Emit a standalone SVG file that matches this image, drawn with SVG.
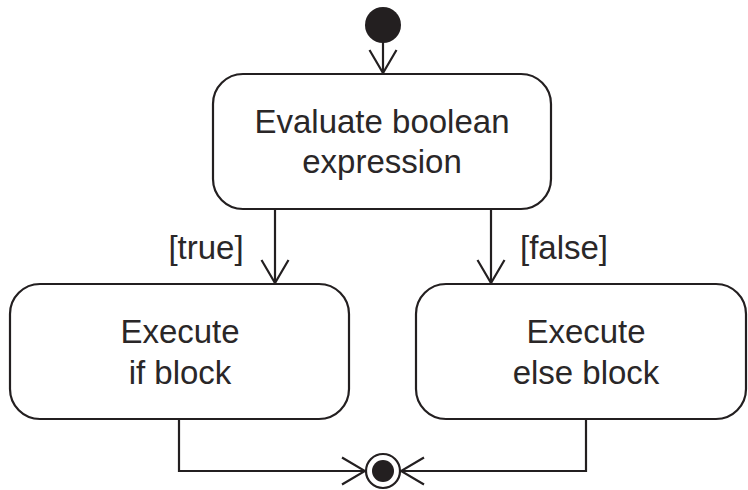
<svg xmlns="http://www.w3.org/2000/svg" width="748" height="490" viewBox="0 0 748 490">
<defs>
<style>
.box{fill:#fff;stroke:#231f20;stroke-width:2.2}
.ln{fill:none;stroke:#231f20;stroke-width:2.2}
.t{font-family:"Liberation Sans",Arial,sans-serif;font-size:33px;fill:#2a2728;text-anchor:middle}
</style>
<marker id="arr" viewBox="0 0 30 30" refX="28" refY="15" markerWidth="30" markerHeight="30" markerUnits="userSpaceOnUse" orient="auto">
<path d="M5,1.5 L28,15 L5,28.5" fill="none" stroke="#231f20" stroke-width="2.2"/>
</marker>
</defs>
<rect width="748" height="490" fill="#fff"/>
<g id="connectors">
<line class="ln" x1="383" y1="30" x2="383" y2="73" marker-end="url(#arr)"/>
<line class="ln" x1="275" y1="209" x2="275" y2="283" marker-end="url(#arr)"/>
<line class="ln" x1="491" y1="209" x2="491" y2="283" marker-end="url(#arr)"/>
<polyline class="ln" points="179,419 179,471 365,471" marker-end="url(#arr)"/>
<polyline class="ln" points="586,419 586,471 401,471" marker-end="url(#arr)"/>
<text class="t" x="206" y="259">[true]</text>
<text class="t" x="564" y="259">[false]</text>
</g>
<g id="start">
<circle cx="383" cy="25" r="18" fill="#231f20"/>
</g>
<g id="evaluate">
<rect class="box" x="213" y="74" width="338" height="135" rx="30"/>
<text class="t" x="382" y="133">Evaluate boolean</text>
<text class="t" x="382" y="173">expression</text>
</g>
<g id="ifblock">
<rect class="box" x="10" y="284" width="339" height="135" rx="30"/>
<text class="t" x="180" y="343">Execute</text>
<text class="t" x="180" y="384">if block</text>
</g>
<g id="elseblock">
<rect class="box" x="416" y="284" width="330" height="135" rx="30"/>
<text class="t" x="586" y="343">Execute</text>
<text class="t" x="586" y="384">else block</text>
</g>
<g id="end">
<circle cx="383" cy="471" r="17" fill="#fff" stroke="#231f20" stroke-width="2.2"/>
<circle cx="383" cy="471" r="11" fill="#231f20"/>
</g>
</svg>
